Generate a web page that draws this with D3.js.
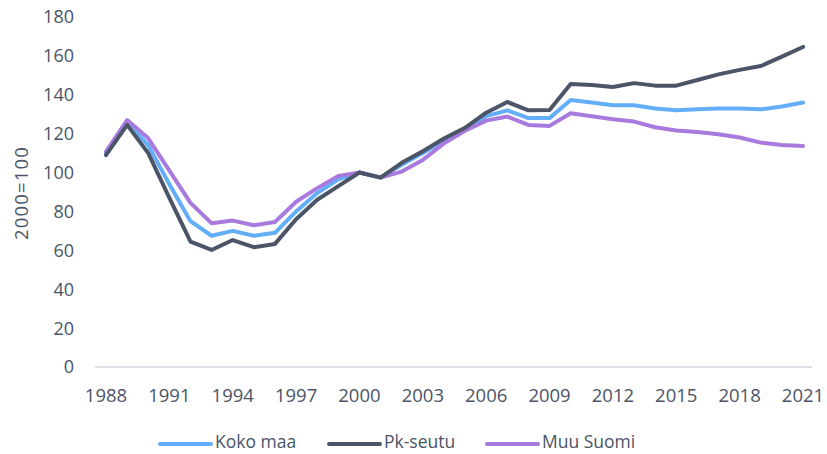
<!DOCTYPE html>
<html>
<head>
<meta charset="utf-8">
<script src="https://cdn.jsdelivr.net/npm/d3@7"></script>
<style>
  body { margin: 0; background: #fff; }
  text { font-family: "Open Sans", "Noto Sans", sans-serif; fill: #4b5466; }
</style>
</head>
<body>
<div id="chart"></div>
<script>
// years and index values (2000=100)
var years = d3.range(1988, 2022);
var kokoMaa = [110, 126, 114, 94, 75, 67.5, 70, 67.5, 69, 80, 89.5, 96.5, 100, 97.5, 104, 110, 116.5, 122, 129, 132, 128, 128,
  137.3, 136, 134.6, 134.6, 132.9, 132, 132.5, 133, 133, 132.5, 134, 136];
var pkSeutu = [109, 124.5, 110, 87, 64.5, 60.2, 65.3, 61.6, 63.3, 76, 86, 93, 100, 97.4, 105, 111, 117.5, 123, 130.8, 136.3, 132, 132.2,
  145.5, 145, 144, 146, 144.7, 144.7, 147.6, 150.5, 152.8, 154.8, 159.6, 164.6];
var muuSuomi = [110.8, 127, 117.6, 101, 84.4, 73.9, 75.3, 72.9, 74.6, 85, 92, 98.3, 100, 97.4, 100.5, 106.5, 115, 121.5, 126.7, 128.8, 124.5, 124,
  130.5, 129, 127.4, 126.2, 123.3, 121.6, 120.9, 119.7, 118, 115.4, 114.2, 113.7];
var seriesNames = ["Koko maa", "Pk-seutu", "Muu Suomi"];
var colors = ["#63aef8", "#4b5567", "#a97ade"];
var yTicks = [0, 20, 40, 60, 80, 100, 120, 140, 160, 180];
var xTicks = [1988, 1991, 1994, 1997, 2000, 2003, 2006, 2009, 2012, 2015, 2018, 2021];

var W = 827, H = 454;
var svg = d3.select("#chart").append("svg")
  .attr("width", W).attr("height", H);

var x = d3.scaleLinear().domain([1988, 2021]).range([106, 803]);
var y = d3.scaleLinear().domain([0, 180]).range([367, 17]);

// baseline
svg.append("line")
  .attr("x1", 95).attr("x2", 812)
  .attr("y1", y(0)).attr("y2", y(0))
  .attr("stroke", "#dde2e8").attr("stroke-width", 2);

// y tick labels
svg.append("g").selectAll("text")
  .data(yTicks).enter().append("text")
  .attr("x", 74).attr("y", function(d) { return y(d); })
  .attr("dy", "0.36em")
  .attr("text-anchor", "end")
  .style("font-size", "18px")
  .text(function(d) { return d; });

// x tick labels
svg.append("g").selectAll("text")
  .data(xTicks).enter().append("text")
  .attr("x", function(d) { return x(d); }).attr("y", 402)
  .attr("text-anchor", "middle")
  .style("font-size", "18.5px")
  .text(function(d) { return d; });

// y title
svg.append("text")
  .attr("transform", "translate(28,193) rotate(-90)")
  .attr("text-anchor", "middle")
  .style("font-size", "18.5px")
  .style("letter-spacing", "1.2px")
  .text("2000=100");

var line = d3.line()
  .x(function(d, i) { return x(years[i]); })
  .y(function(d) { return y(d); });

var all = [kokoMaa, pkSeutu, muuSuomi];
// draw blue first, then purple, then dark on top where they overlap
[0, 2, 1].forEach(function(k) {
  svg.append("path")
    .datum(all[k])
    .attr("d", line)
    .attr("fill", "none")
    .attr("stroke", colors[k])
    .attr("stroke-width", 4)
    .attr("stroke-linejoin", "round")
    .attr("stroke-linecap", "round");
});

// legend
var legX = [160, 329, 487];
var leg = svg.append("g");
seriesNames.forEach(function(name, i) {
  leg.append("line")
    .attr("x1", legX[i]).attr("x2", legX[i] + 51)
    .attr("y1", 444).attr("y2", 444)
    .attr("stroke", colors[i]).attr("stroke-width", 4)
    .attr("stroke-linecap", "round");
  leg.append("text")
    .attr("x", legX[i] + 55).attr("y", 442)
    .attr("dy", "0.36em")
    .style("font-size", "17.5px")
    .text(name);
});
</script>
</body>
</html>
